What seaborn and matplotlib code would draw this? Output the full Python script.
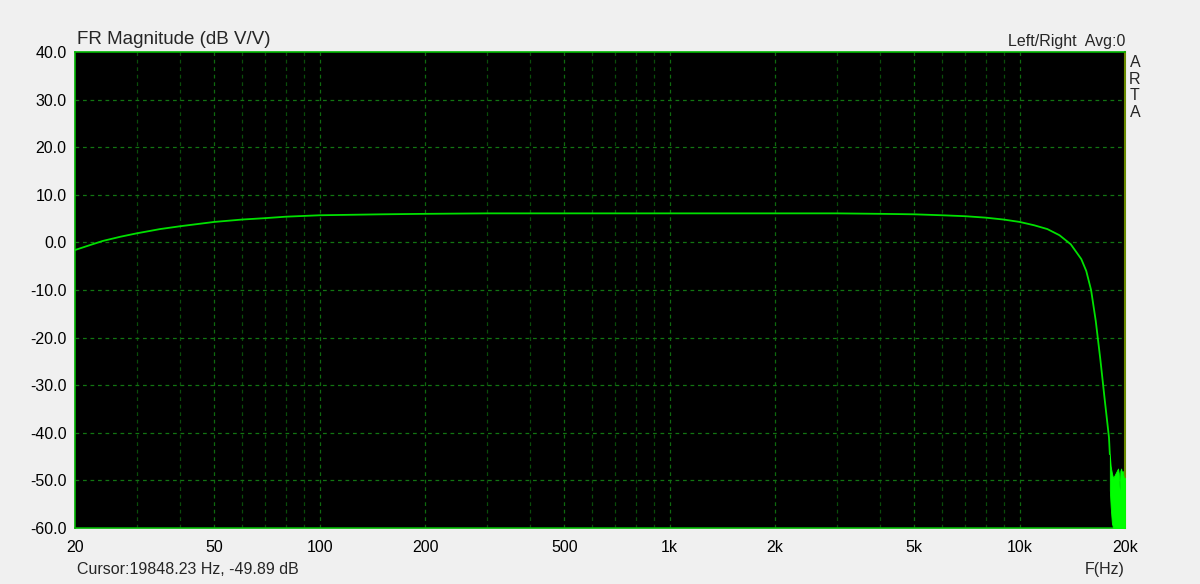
import numpy as np
import pandas as pd
import seaborn as sns
import matplotlib.pyplot as plt
from matplotlib.ticker import FixedLocator, NullFormatter

# --------------------------------------------------------------------------
# Data
# --------------------------------------------------------------------------
freq = [20, 22, 24, 27, 30, 35, 40, 50, 60, 70, 80, 100, 150, 200, 300, 500,
        1000, 2000, 3000, 4000, 5000, 6000, 7000, 8000, 9000, 10000, 11000,
        12000, 13000, 14000, 15000, 15500, 16000, 16500, 17000, 17500, 18000, 18100]
mag_db = [-1.6, -0.6, 0.3, 1.2, 1.9, 2.8, 3.4, 4.3, 4.8, 5.1, 5.4, 5.7, 5.9, 6.0, 6.1, 6.1,
          6.1, 6.1, 6.1, 6.0, 5.9, 5.7, 5.5, 5.2, 4.8, 4.3, 3.6,
          2.8, 1.5, -0.4, -3.5, -6.0, -10.0, -16.5, -24.5, -33.0, -41.0, -44.5]

# noisy tail above ~18 kHz (drawn as a filled band)
noise_freq = [18100, 18200, 18350, 18500, 18650, 18800, 18950, 19100, 19200,
              19300, 19400, 19500, 19600, 19700, 19800, 19900, 20000]
noise_hi = [-44.5, -47.0, -48.5, -49.5, -49.0, -48.5, -48.0, -47.5, -48.5,
            -52.0, -48.0, -47.5, -48.5, -48.0, -49.0, -50.0, -49.5]
noise_lo = [-52.0, -55.5, -59.0, -60.0, -60.0, -60.0, -60.0, -60.0, -60.0,
            -60.0, -60.0, -60.0, -60.0, -60.0, -60.0, -60.0, -60.0]

y_ticks = [40, 30, 20, 10, 0, -10, -20, -30, -40, -50, -60]
x_major = [20, 50, 100, 200, 500, 1000, 2000, 5000, 10000, 20000]
x_labels = ['20', '50', '100', '200', '500', '1k', '2k', '5k', '10k', '20k']
x_minor = [30, 40, 60, 70, 80, 90, 300, 400, 600, 700, 800, 900,
           3000, 4000, 6000, 7000, 8000, 9000]

df = pd.DataFrame({'freq': freq, 'dB': mag_db})

# --------------------------------------------------------------------------
# Plot
# --------------------------------------------------------------------------
sns.set_style('white')
plt.rcParams['font.family'] = ['Liberation Sans', 'DejaVu Sans']

fig = plt.figure(figsize=(12, 5.84), dpi=100, facecolor='#f0f0f0')
ax = fig.add_axes([75 / 1200, 1 - 528 / 584, 1050 / 1200, 476 / 584])
ax.set_facecolor('black')

ax.set_xscale('log')
ax.set_xlim(20, 20000)
ax.set_ylim(-60, 40)

# grid
for f in x_minor:
    ax.axvline(f, color='#0a4d0a', lw=0.9, ls=(0, (3, 3)), zorder=1)
for f in x_major[1:-1]:
    ax.axvline(f, color='#0f6a0f', lw=0.9, ls=(0, (3, 3)), zorder=1)
for v in y_ticks[1:-1]:
    ax.axhline(v, color='#127512', lw=0.9, ls=(0, (3, 3)), zorder=1)

sns.lineplot(data=df, x='freq', y='dB', ax=ax, color='#00e000', lw=1.3, zorder=3)
ax.fill_between(noise_freq, noise_lo, noise_hi, color='#00ff00', lw=0.6, zorder=3)

ax.xaxis.set_major_locator(FixedLocator(x_major))
ax.set_xticklabels(x_labels)
ax.xaxis.set_minor_locator(FixedLocator(x_minor))
ax.xaxis.set_minor_formatter(NullFormatter())
ax.set_yticks(y_ticks)
ax.set_yticklabels([f'{v:.1f}' for v in y_ticks])
ax.tick_params(axis='both', which='both', length=0, labelsize=11.5, colors='black')
ax.tick_params(axis='x', pad=9)
ax.tick_params(axis='y', pad=6)
ax.set_xlabel('')
ax.set_ylabel('')

for side in ['left', 'bottom', 'top']:
    ax.spines[side].set_color('#00b400')
    ax.spines[side].set_linewidth(1.2)
ax.spines['right'].set_color('#6a8a00')
ax.spines['right'].set_linewidth(1.5)

# annotations around the plot
fig.text(77 / 1200, 1 - 44 / 584, 'FR Magnitude (dB V/V)', fontsize=13.5, va='baseline', ha='left')
fig.text(1125 / 1200, 1 - 46 / 584, 'Left/Right  Avg:0', fontsize=11.5, va='baseline', ha='right')
for i, ch in enumerate('ARTA'):
    fig.text(1135 / 1200, 1 - (67 + i * 16.7) / 584, ch, fontsize=11.5, va='baseline', ha='center')
fig.text(77 / 1200, 1 - 574 / 584, 'Cursor:19848.23 Hz, -49.89 dB', fontsize=11.5, va='baseline', ha='left')
fig.text(1125 / 1200, 1 - 574 / 584, 'F(Hz)', fontsize=11.5, va='baseline', ha='right')

plt.savefig('out.png', dpi=100, facecolor=fig.get_facecolor())
